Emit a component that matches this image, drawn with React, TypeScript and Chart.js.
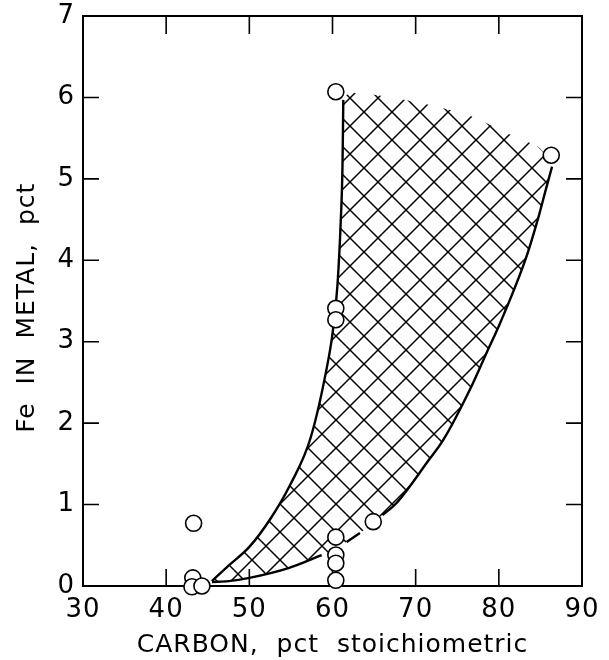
import React, { useEffect, useRef } from "react";
import { Chart, registerables } from "chart.js";

Chart.register(...registerables);

// Axis ticks
const xTickValues = [30, 40, 50, 60, 70, 80, 90];
const yTickValues = [0, 1, 2, 3, 4, 5, 6, 7];

// Experimental points (open circles)
const pointC = [60.4, 86.3, 60.4, 60.4, 43.3, 43.2, 43.1, 44.3, 60.4, 60.4, 60.4, 60.4, 64.9];
const pointFe = [6.07, 5.29, 3.41, 3.27, 0.77, 0.1, -0.01, 0.0, 0.6, 0.38, 0.28, 0.07, 0.79];

// Left boundary curve
const leftC = [45.5, 47.5, 50.0, 52.5, 54.9, 57.4, 59.5, 60.0, 60.6, 61.0, 61.2, 61.3];
const leftFe = [0.06, 0.25, 0.48, 0.82, 1.24, 1.83, 2.78, 3.1, 3.7, 4.5, 5.15, 5.97];

// Upper edge of the hatched region
const topC = [62.0, 63.3, 67.2, 71.6, 76.7, 81.2, 84.9];
const topFe = [6.05, 6.05, 6.0, 5.91, 5.77, 5.55, 5.38];

// Right boundary curve, increasing carbon (null = gap in the drawn line)
const rightC = [45.5, 47.5, 50.0, 54.7, 58.7, 60.4, 61.7, 63.3, 64.9, 66.0, 67.7, 71.6, 73.3, 76.7, 78.6, 80.2, 83.3, 84.9, 85.6, 86.4];
const rightFe = [0.05, 0.06, 0.1, 0.22, 0.38, null, 0.54, 0.65, null, 0.87, 1.02, 1.55, 1.79, 2.45, 2.88, 3.24, 4.04, 4.58, 4.85, 5.15];

const FONT = "'DejaVu Sans', sans-serif";

function zip(xs: number[], ys: (number | null)[]) {
  return xs.map((x, i) => ({ x, y: ys[i] }));
}

function makeHatch(ctx: CanvasRenderingContext2D, s: number) {
  const c = document.createElement("canvas");
  c.width = s;
  c.height = s;
  const g = c.getContext("2d")!;
  g.strokeStyle = "#000";
  g.lineWidth = 1.5;
  g.beginPath();
  for (const o of [-s, 0, s]) {
    g.moveTo(o, 0);
    g.lineTo(o + s, s);
    g.moveTo(o + s, 0);
    g.lineTo(o, s);
  }
  g.stroke();
  return ctx.createPattern(c, "repeat")!;
}

const framePlugin = {
  id: "frame",
  beforeDraw(chart: any) {
    (chart.ctx as any).letterSpacing = "1px";
  },
  beforeDatasetsDraw(chart: any) {
    const { ctx, chartArea, scales } = chart;
    const { left, right, top, bottom } = chartArea;
    ctx.save();
    ctx.strokeStyle = "#000";
    ctx.lineWidth = 2;
    ctx.beginPath();
    ctx.moveTo(left, top);
    ctx.lineTo(right, top);
    ctx.lineTo(right, bottom);
    ctx.stroke();
    ctx.lineWidth = 1.6;
    ctx.beginPath();
    xTickValues.slice(1, -1).forEach((v) => {
      const px = scales.x.getPixelForValue(v);
      ctx.moveTo(px, bottom);
      ctx.lineTo(px, bottom - 17);
      ctx.moveTo(px, top);
      ctx.lineTo(px, top + 18);
    });
    yTickValues.slice(1, -1).forEach((v) => {
      const py = scales.y.getPixelForValue(v);
      ctx.moveTo(left, py);
      ctx.lineTo(left + 16, py);
      ctx.moveTo(right, py);
      ctx.lineTo(right - 16, py);
    });
    ctx.stroke();
    ctx.restore();
  },
};

export default function App() {
  const ref = useRef<HTMLCanvasElement>(null);

  useEffect(() => {
    const canvas = ref.current!;
    const ctx = canvas.getContext("2d")!;
    const hatch = makeHatch(ctx, 28);

    const polygon = [
      ...zip(leftC, leftFe),
      ...zip(topC, topFe),
      ...zip(rightC, rightFe).filter((p) => p.y !== null).reverse(),
    ];

    const chart = new Chart(ctx, {
      type: "line",
      data: {
        datasets: [
          {
            label: "region",
            data: polygon as any,
            fill: "shape",
            backgroundColor: hatch as any,
            borderWidth: 0,
            pointRadius: 0,
            tension: 0.2,
            order: 3,
          },
          {
            label: "left",
            data: zip(leftC, leftFe) as any,
            borderColor: "#000",
            borderWidth: 2.4,
            pointRadius: 0,
            fill: false,
            cubicInterpolationMode: "monotone",
            order: 2,
          },
          {
            label: "right",
            data: zip(rightC, rightFe) as any,
            borderColor: "#000",
            borderWidth: 2.4,
            pointRadius: 0,
            fill: false,
            spanGaps: false,
            cubicInterpolationMode: "monotone",
            order: 2,
          },
          {
            label: "points",
            data: zip(pointC, pointFe) as any,
            showLine: false,
            pointStyle: "circle",
            pointRadius: 8,
            pointBorderWidth: 1.6,
            pointBorderColor: "#000",
            pointBackgroundColor: "#fff",
            clip: false as any,
            order: 1,
          },
        ],
      },
      options: {
        responsive: false,
        animation: false,
        layout: { padding: { top: 16, right: 27, bottom: 0, left: 0 } },
        plugins: {
          legend: { display: false },
          tooltip: { enabled: false },
        },
        scales: {
          x: {
            type: "linear",
            position: "bottom",
            min: 30,
            max: 90,
            afterFit: (s: any) => {
              s.height = 74;
            },
            ticks: {
              stepSize: 10,
              color: "#000",
              padding: 9,
              font: { family: FONT, size: 26 },
            },
            grid: { display: false, drawTicks: false },
            border: { display: true, color: "#000", width: 2 },
            title: {
              display: true,
              text: "CARBON,  pct  stoichiometric",
              color: "#000",
              font: { family: FONT, size: 25 },
              padding: { top: 0, bottom: 0 },
            },
          },
          y: {
            type: "linear",
            min: 0,
            max: 7,
            afterFit: (s: any) => {
              s.width = 83;
            },
            ticks: {
              stepSize: 1,
              color: "#000",
              padding: 8,
              font: { family: FONT, size: 26, lineHeight: 0.6 },
            },
            grid: { display: false, drawTicks: false },
            border: { display: true, color: "#000", width: 2 },
            title: {
              display: true,
              text: "Fe  IN  METAL,  pct\u2002",
              color: "#000",
              font: { family: FONT, size: 25 },
              padding: { top: 12, bottom: 0 },
            },
          },
        },
      },
      plugins: [framePlugin],
    });

    return () => chart.destroy();
  }, []);

  return (
    <div style={{ position: "absolute", left: 0, top: 0, width: 609, height: 660 }}>
      <canvas ref={ref} width={609} height={660} style={{ display: "block" }} />
    </div>
  );
}
